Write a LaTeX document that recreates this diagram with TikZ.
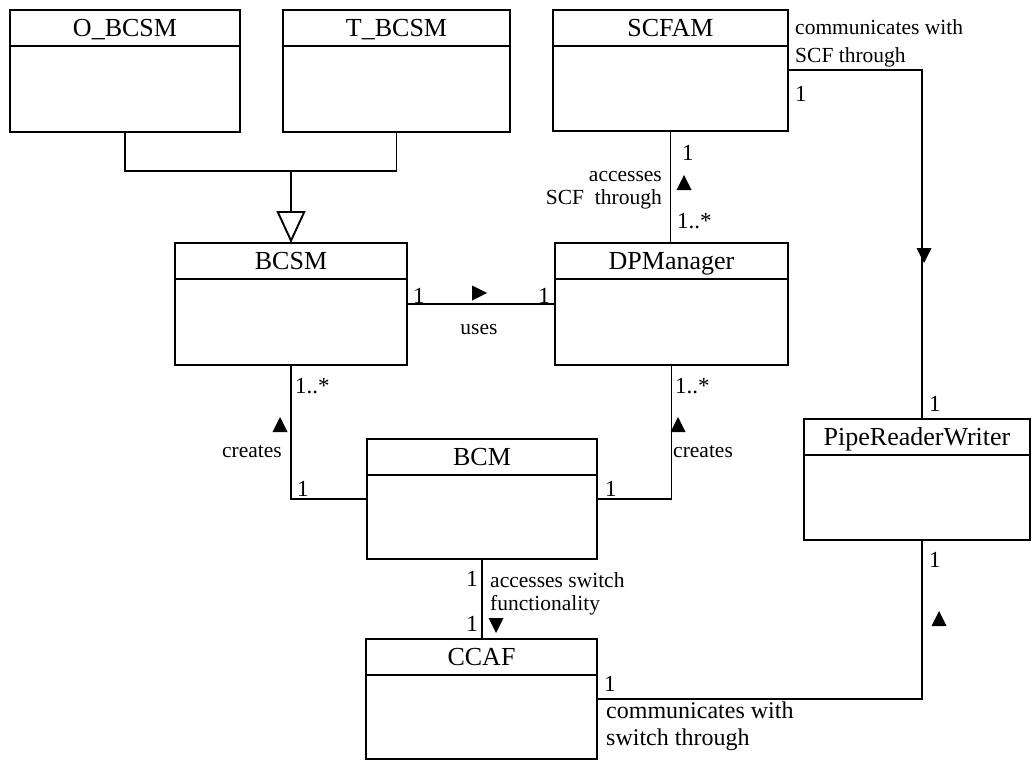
\documentclass[tikz,border=0pt]{standalone}
\usepackage{fontspec}
\setmainfont{Liberation Serif}
\usetikzlibrary{arrows.meta,calc}

\tikzset{
  classbox/.style={draw, line width=1.9pt, anchor=north west, inner sep=0pt, outer sep=0pt},
  classname/.style={font=\fontsize{26}{28}\selectfont, inner sep=0pt, text height=17.5pt, text depth=0pt},
  link/.style={line width=1.9pt},
  generalize/.style={link, -{Triangle[open, length=32pt, width=29pt, line width=1.9pt]}},
  mult/.style={font=\fontsize{23}{25}\selectfont, inner sep=0pt, text height=16pt, text depth=0pt},
  role/.style={font=\fontsize{21.5}{23}\selectfont, inner sep=0pt},
  bigrole/.style={font=\fontsize{24}{27}\selectfont, inner sep=0pt},
}

% a class: name, x, y (north west corner), width, height, title
\newcommand\umlclass[6]{%
  \node[classbox, minimum width=#4pt, minimum height=#5pt] (#1) at (#2,#3) {};
  \draw[link] ([yshift=-36pt]#1.north west) -- ([yshift=-36pt]#1.north east);
  \node[classname] (#1-name) at ([yshift=-18pt]#1.north) {#6};
}

% filled direction markers, centred at (x,y)
\newcommand\dirup[2]{\fill (#1,#2) ++(0,-8) -- ++(7.5,15) -- ++(-15,0) -- cycle;}
\newcommand\dirdown[2]{\fill (#1,#2) ++(0,8) -- ++(7.5,-15) -- ++(-15,0) -- cycle;}
\newcommand\dirright[2]{\fill (#1,#2) ++(8,0) -- ++(-15,-7.5) -- ++(0,15) -- cycle;}

\begin{document}
\begin{tikzpicture}[x=1pt, y=-1pt]
\useasboundingbox (0,0) rectangle (1033,760);
\fill[white] (0,0) rectangle (1033,760);

% classes
\umlclass{obcsm}{10}{10}{230}{122}{O\_BCSM}
\umlclass{tbcsm}{283}{10}{227}{122}{T\_BCSM}
\umlclass{scfam}{553}{10}{235}{121}{SCFAM}
\umlclass{bcsm}{175}{243}{232}{122}{BCSM}
\umlclass{dpm}{555}{243}{233}{122}{DPManager}
\umlclass{prw}{804}{419}{226}{121}{PipeReaderWriter}
\umlclass{bcm}{367}{439}{230}{120}{BCM}
\umlclass{ccaf}{366}{639}{231}{120}{CCAF}

% generalization of O_BCSM and T_BCSM into BCSM
\coordinate (join) at (bcsm.north |- 0,171);
\draw[link] (obcsm.south) |- (join) -| (tbcsm.south);
\draw[generalize] (join) -- (bcsm.north);

% SCFAM -- PipeReaderWriter
\draw[link] (scfam.east |- 0,70) -| ([xshift=5pt]prw.north);
\node[role, align=left, anchor=north west] (lblscf) at (795,19)
  {communicates with\\[5pt]SCF through};
\node[mult, anchor=west] (m1) at (795,93) {1};
\dirdown{924}{255}
\node[mult, anchor=west] (m2) at (929,403) {1};

% SCFAM -- DPManager
\draw[link] (scfam.south) -- (scfam.south |- dpm.north);
\node[mult, anchor=west] (m3) at (682,152) {1};
\dirup{684}{183}
\node[role, align=right, anchor=north east] (lblacc) at (662,171)
  {accesses\\SCF\ \ through};
\node[mult, anchor=west] (m4) at (677,220) {1..*};

% BCSM -- DPManager
\draw[link] (bcsm.east) -- (bcsm.east -| dpm.west);
\node[mult, anchor=west] (m5) at (413,295) {1};
\node[mult, anchor=east] (m6) at (550,295) {1};
\dirright{479}{293}
\node[role, anchor=base] (lbluses) at (479,334) {uses};

% BCM creates BCSM
\draw[link] (bcsm.south) |- (bcm.west);
\node[mult, anchor=west] (m7) at (295,385) {1..*};
\dirup{280}{425}
\node[role, anchor=base east] (lblcr1) at (282,457) {creates};
\node[mult, anchor=west] (m8) at (297,488) {1};

% BCM creates DPManager
\draw[link] (dpm.south) |- (bcm.east);
\node[mult, anchor=west] (m9) at (675,385) {1..*};
\dirup{678}{425}
\node[role, anchor=base west] (lblcr2) at (673,457) {creates};
\node[mult, anchor=west] (m10) at (605,488) {1};

% BCM -- CCAF
\draw[link] (bcm.south) -- (bcm.south |- ccaf.north);
\node[mult, anchor=east] (m11) at (478,578) {1};
\node[mult, anchor=east] (m12) at (478,623) {1};
\dirdown{496}{625}
\node[role, align=left, anchor=north west] (lblsw) at (490,572)
  {accesses switch\\functionality};

% CCAF -- PipeReaderWriter
\draw[link] (ccaf.east) -| ([xshift=5pt]prw.south);
\node[mult, anchor=west] (m13) at (604,683) {1};
\node[bigrole, align=left, anchor=north west] (lblcomm) at (606,702)
  {communicates with\\switch through};
\node[mult, anchor=west] (m14) at (929,559) {1};
\dirup{939}{619}
\end{tikzpicture}
\end{document}
